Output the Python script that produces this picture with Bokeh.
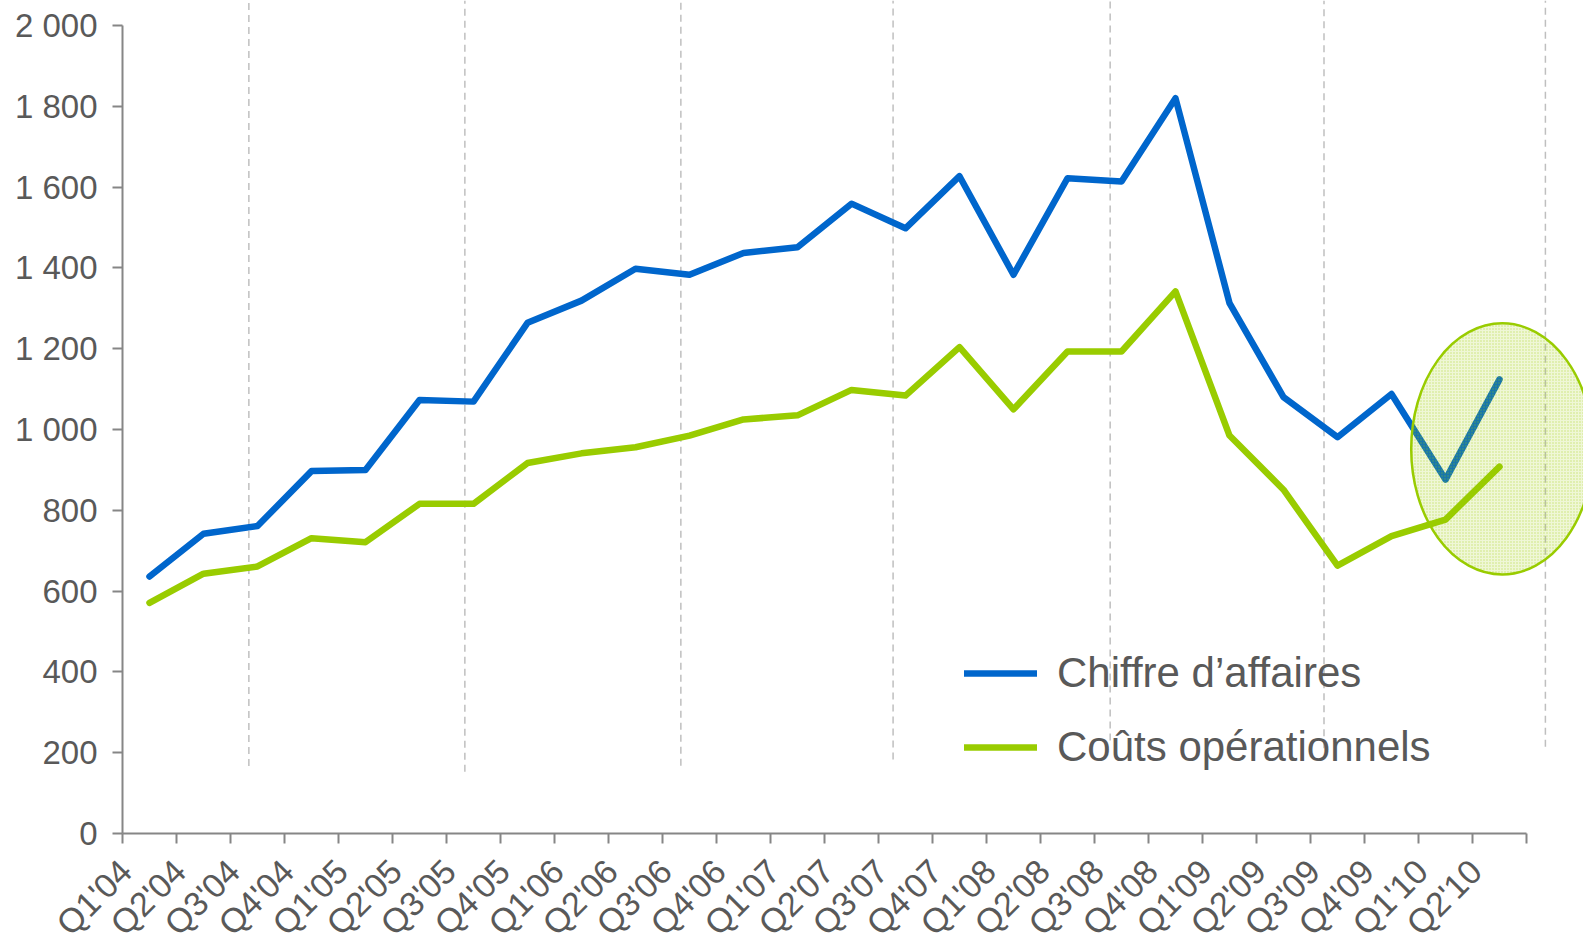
import math
from bokeh.plotting import figure
from bokeh.models import Range1d, FixedTicker, Legend, LegendItem
from bokeh.embed import file_html
from bokeh.resources import INLINE

# ---------------- data ----------------
quarters = ["Q1'04", "Q2'04", "Q3'04", "Q4'04",
            "Q1'05", "Q2'05", "Q3'05", "Q4'05",
            "Q1'06", "Q2'06", "Q3'06", "Q4'06",
            "Q1'07", "Q2'07", "Q3'07", "Q4'07",
            "Q1'08", "Q2'08", "Q3'08", "Q4'08",
            "Q1'09", "Q2'09", "Q3'09", "Q4'09",
            "Q1'10", "Q2'10"]
chiffre_affaires = [636, 742, 761, 897, 900, 1073, 1069, 1264, 1319, 1398, 1383, 1437, 1451,
                    1559, 1498, 1627, 1383, 1622, 1614, 1820, 1313, 1080, 981, 1088, 876, 1124]
couts_operationnels = [571, 643, 661, 731, 721, 816, 816, 917, 941, 956, 985, 1025, 1035,
                       1098, 1084, 1204, 1050, 1193, 1193, 1342, 985, 851, 663, 736, 777, 908]
y_ticks = list(range(0, 2001, 200))
y_tick_labels = [f"{v:,}".replace(",", " ") for v in y_ticks]
series_names = ["Chiffre d\u2019affaires", "Co\u00fbts op\u00e9rationnels"]

# ---------------- layout / style ----------------
BLUE = "#0066CC"
GREEN = "#99CC00"
AXIS = "#868686"
TEXT = "#595959"
FONT = "Liberation Sans"
PX_PER_CAT = 54.0
PX_PER_UNIT = 0.404
LEFT = 122
FRAME_W = 1461
FRAME_H = 833
LABEL_SHIFT = -0.44   # rotated labels sit left of the category centre

divider_x = [2.34, 6.34, 10.34, 14.27, 18.29, 22.25, 26.35]
divider_bottom = [167, 153, 168, 183, 230, 211, 215]
highlight = dict(x=25.55, y=952, w=3.37, h=622)

n = len(quarters)
xs = [i + 0.5 for i in range(n)]
label_pos = [x + LABEL_SHIFT for x in xs]
x_end = FRAME_W / PX_PER_CAT
y_end = FRAME_H / PX_PER_UNIT

p = figure(frame_width=FRAME_W, frame_height=FRAME_H,
           x_range=Range1d(0, x_end), y_range=Range1d(0, y_end),
           output_backend="svg", toolbar_location=None,
           min_border_left=LEFT, min_border_right=0, min_border_top=0, min_border_bottom=0)
p.xgrid.visible = False
p.ygrid.visible = False
p.outline_line_color = None
p.background_fill_color = "white"
p.border_fill_color = "white"

# y axis
ya = p.yaxis[0]
ya.ticker = FixedTicker(ticks=y_ticks)
ya.major_label_overrides = {v: lab for v, lab in zip(y_ticks, y_tick_labels)}
ya.bounds = (0, 2000)
ya.axis_line_color = AXIS
ya.axis_line_width = 2
ya.major_tick_out = 10
ya.major_tick_in = 0
ya.major_tick_line_color = AXIS
ya.major_tick_line_width = 2
ya.minor_tick_line_color = None
ya.major_label_text_font = FONT
ya.major_label_text_font_size = "33px"
ya.major_label_text_color = TEXT
ya.major_label_standoff = 15

# x axis
xa = p.xaxis[0]
xa.ticker = FixedTicker(ticks=label_pos, minor_ticks=list(range(n + 1)))
xa.major_label_overrides = {x: q for x, q in zip(label_pos, quarters)}
xa.bounds = (0, n)
xa.axis_line_color = AXIS
xa.axis_line_width = 2
xa.major_tick_line_color = None
xa.major_tick_out = 10
xa.major_tick_in = 0
xa.minor_tick_line_color = AXIS
xa.minor_tick_line_width = 2
xa.minor_tick_out = 10
xa.minor_tick_in = 0
xa.major_label_orientation = math.pi / 4
xa.major_label_text_font = FONT
xa.major_label_text_font_size = "34px"
xa.major_label_text_color = TEXT
xa.major_label_standoff = 22

# dashed dividers
p.segment(x0=divider_x, y0=divider_bottom, x1=divider_x, y1=[y_end] * len(divider_x),
          line_color="#BFBFBF", line_width=1.5, line_dash="7 5")

r1 = p.line(xs, chiffre_affaires, line_color=BLUE, line_width=6.5,
            line_join="round", line_cap="round")
r2 = p.line(xs, couts_operationnels, line_color=GREEN, line_width=6.5,
            line_join="round", line_cap="round")

p.ellipse(x=[highlight["x"]], y=[highlight["y"]], width=[highlight["w"]], height=[highlight["h"]],
          fill_color=GREEN, fill_alpha=0.16,
          hatch_pattern="dot", hatch_color=GREEN, hatch_alpha=0.45, hatch_scale=3, hatch_weight=1.5,
          line_color=GREEN, line_width=2.5)

legend = Legend(items=[LegendItem(label=series_names[0], renderers=[r1]),
                       LegendItem(label=series_names[1], renderers=[r2])],
                location=(842, 49), background_fill_alpha=0, border_line_color=None,
                label_text_font=FONT, label_text_font_size="42px", label_text_color=TEXT,
                glyph_width=73, glyph_height=74, label_height=74, spacing=0,
                padding=0, margin=0, label_standoff=20)
p.add_layout(legend)

open("out.html", "w").write(file_html(p, INLINE))
